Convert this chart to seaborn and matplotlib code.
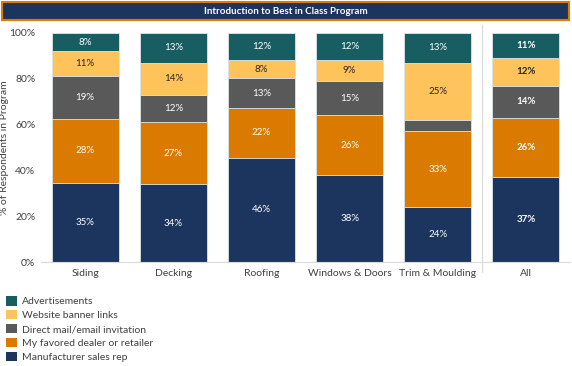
import numpy as np
import pandas as pd
import matplotlib.pyplot as plt
import matplotlib.patches as mpatches
import seaborn as sns

# ---------- data ----------
categories = ["Siding", "Decking", "Roofing", "Windows & Doors", "Trim & Moulding", "All"]
manufacturer = [35, 34, 46, 38, 24, 37]
dealer = [28, 27, 22, 26, 33, 26]
direct_mail = [19, 12, 13, 15, 5, 14]
website = [11, 14, 8, 9, 25, 12]
adverts = [8, 13, 12, 12, 13, 11]

series_names = ["Manufacturer sales rep", "My favored dealer or retailer",
                "Direct mail/email invitation", "Website banner links", "Advertisements"]
series_vals = [manufacturer, dealer, direct_mail, website, adverts]
colors = ["#1c355e", "#db7a00", "#595959", "#fec35a", "#175e63"]
text_colors = ["white", "white", "white", "#262626", "white"]

# ---------- stack (100% stacked, like excel) ----------
vals = np.array(series_vals, dtype=float)
totals = vals.sum(axis=0)
pct = vals / totals * 100
cum = np.cumsum(pct, axis=0)

sns.set_style("white")
plt.rcParams["font.family"] = ["Lato", "DejaVu Sans"]

fig = plt.figure(figsize=(5.72, 3.66), dpi=100)
ax = fig.add_axes([41 / 572, 1 - 262 / 366, 529 / 572, 229 / 366])

# draw tallest cumulative first so the lower segments sit on top
for i in range(len(series_names) - 1, -1, -1):
    df = pd.DataFrame({"cat": categories, "top": cum[i]})
    sns.barplot(data=df, x="cat", y="top", order=categories, color=colors[i],
                saturation=1, width=0.76, edgecolor="#dfe6ea", linewidth=0.6, ax=ax)

# segment labels
for i, name in enumerate(series_names):
    for j, cat in enumerate(categories):
        v = vals[i, j]
        if v < 6:
            continue
        mid = cum[i, j] - pct[i, j] / 2
        ax.text(j, mid, f"{int(v)}%", ha="center", va="center", fontsize=7,
                color=text_colors[i], fontweight="bold" if cat == "All" else "normal")

ax.set_ylim(0, 100)
ax.set_xlim(-0.5, len(categories) - 0.5)
ax.set_yticks(range(0, 101, 20))
ax.set_yticklabels([f"{t}%" for t in range(0, 101, 20)], fontsize=7.5, color="#404040")
ax.set_ylabel("% of Respondents in Program", fontsize=7.5, color="#404040")
ax.yaxis.set_label_coords(-32 / 529, 0.5)
ax.set_xlabel("")
ax.tick_params(axis="x", labelsize=7.5, labelcolor="#404040", length=0, pad=5)
ax.tick_params(axis="y", length=0, pad=4)
ax.set_xticks(np.arange(-0.5, len(categories)), minor=True)
ax.tick_params(axis="x", which="minor", length=4, color="#d9d9d9", width=0.8)

for side in ["top", "right", "left"]:
    ax.spines[side].set_visible(False)
ax.spines["bottom"].set_color("#d9d9d9")
ax.spines["bottom"].set_linewidth(0.8)

# separator before "All"
ax.axvline(4.5, ymin=-0.045, ymax=1.035, color="#d9d9d9", lw=0.8, clip_on=False)

# title bar
fig.patches.append(mpatches.Rectangle((2 / 572, 1 - 20 / 366), 567 / 572, 18 / 366,
                                      transform=fig.transFigure, facecolor="#1c355e",
                                      edgecolor="#e07b00", linewidth=1.5))
fig.text(0.5, 1 - 11 / 366, "Introduction to Best in Class Program", ha="center",
         va="center", color="white", fontsize=7, fontweight="bold")

# legend
handles = [mpatches.Patch(facecolor=colors[i], edgecolor="none", label=series_names[i])
           for i in range(len(series_names) - 1, -1, -1)]
fig.legend(handles=handles, loc="upper left", bbox_to_anchor=(0.0, 1 - 290 / 366),
           frameon=False, fontsize=7.5, handlelength=1.0, handleheight=1.0,
           handletextpad=0.5, labelspacing=0.35, borderaxespad=0.2,
           labelcolor="#404040")

fig.savefig("out.png", dpi=100)
